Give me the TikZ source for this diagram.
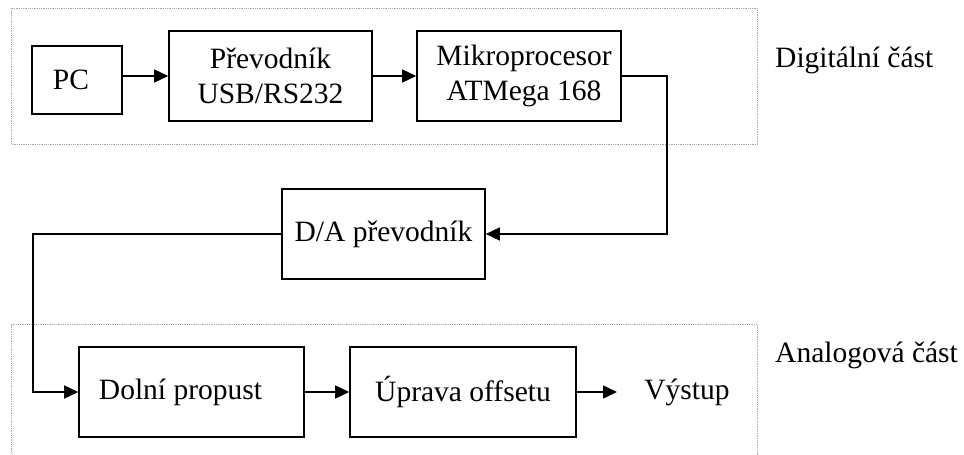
\documentclass[tikz,border=0pt]{standalone}
\usepackage{fontspec}
\setmainfont{Liberation Serif}
\usetikzlibrary{arrows.meta}

\begin{document}
\begin{tikzpicture}[x=1pt,y=-1pt,
            every node/.style={font=\fontsize{29.5}{35}\selectfont},
            blok/.style={draw,line width=1.6pt,inner sep=0pt,minimum height=90pt,align=center},
            ramec/.style={draw=gray!70,line width=0.8pt,densely dotted},
            sipka/.style={line width=1.5pt,-{Triangle[length=14pt,width=13pt]}}]
            \useasboundingbox (0,0) rectangle (964,455);
            \draw[ramec] (11,8) rectangle (757,144);
            \draw[ramec] (11,470) -- (11,324) -- (757,324) -- (757,470);
            \node[blok,minimum width=90pt,minimum height=68pt] (PC) at (77,80) {PC\hspace{12pt}};
            \node[blok,minimum width=203pt] (USB) at (270.5,76) {Převodník\hspace{18pt}\\USB/RS232\hspace{18pt}};
            \node[blok,minimum width=204pt] (MCU) at (519,76) {\hspace{10pt}Mikroprocesor\\\hspace{10pt}ATMega 168};
            \node[blok,minimum width=203pt] (DA) at (383.5,234) {D/A převodník};
            \node[blok,minimum width=225pt] (LP) at (191.5,392) {Dolní propust\hspace{22pt}};
            \node[blok,minimum width=226pt] (OFF) at (463,392) {Úprava offsetu};
            \node (VY) at (687,392) {Výstup};
            \coordinate (V) at (617,392);
            \node[anchor=base west,inner sep=0pt] (DIG) at (775,67) {Digitální část};
            \node[anchor=base west,inner sep=0pt] (ANA) at (775,362) {Analogová část};
            \draw[sipka] (PC.east |- USB.west) -- (USB.west);
            \draw[sipka] (USB.east) -- (MCU.west);
            \draw[sipka] (MCU.east) -- ++(45,0) |- (DA.east);
            \draw[sipka] (DA.west) -- ++(-248,0) |- (LP.west);
            \draw[sipka] (LP.east) -- (OFF.west);
            \draw[sipka] (OFF.east) -- (V);
        \end{tikzpicture}
\end{document}
